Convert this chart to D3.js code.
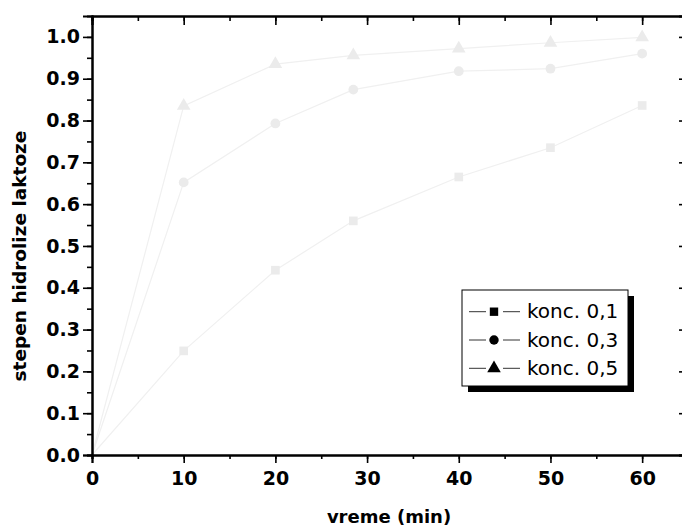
<!DOCTYPE html>
<html>
<head>
<meta charset="utf-8">
<script src="https://cdn.jsdelivr.net/npm/d3@7"></script>
<style>
  body { margin: 0; background: #fff; }
  svg { display: block; }
  .axis path, .axis line { stroke: #000; }
  .axis text { font-family: "DejaVu Sans", sans-serif; font-weight: bold; font-size: 19px; fill: #000; }
</style>
</head>
<body>
<svg id="chart" width="682" height="531"></svg>
<script>
// data
var times = [0, 10, 20, 28.5, 40, 50, 60];
var konc01 = [0, 0.249, 0.442, 0.560, 0.665, 0.735, 0.836];
var konc03 = [0, 0.652, 0.793, 0.874, 0.918, 0.924, 0.960];
var konc05 = [0, 0.835, 0.935, 0.956, 0.972, 0.986, 0.999];
var seriesNames = ["konc. 0,1", "konc. 0,3", "konc. 0,5"];
var seriesShapes = [d3.symbolSquare, d3.symbolCircle, d3.symbolTriangle];
var xTicks = [0, 10, 20, 30, 40, 50, 60];
var yTicks = [0, 0.1, 0.2, 0.3, 0.4, 0.5, 0.6, 0.7, 0.8, 0.9, 1.0];

var series = [konc01, konc03, konc05].map(function(vals, i) {
  return { name: seriesNames[i], shape: seriesShapes[i],
           points: times.map(function(t, j) { return [t, vals[j]]; }) };
});

var svg = d3.select("#chart"),
    plotLeft = 92, plotRight = 688, plotTop = 16, plotBottom = 455;

var x = d3.scaleLinear().domain([0, 65]).range([plotLeft, plotRight]);
var y = d3.scaleLinear().domain([0, 1.05]).range([plotBottom, plotTop]);

var minorX = d3.range(0, 66, 5);
var minorY = d3.range(0, 21).map(function(i) { return i * 0.05; });

function axisGroup(axis, tx, ty) {
  return svg.append("g").attr("class", "axis")
    .attr("transform", "translate(" + tx + "," + ty + ")")
    .call(axis)
    .call(function(g) {
      g.select(".domain").attr("stroke-width", 2);
      g.selectAll(".tick line").attr("stroke-width", 1.6);
    });
}

// lines, very pale as in the original
var line = d3.line().x(function(d) { return x(d[0]); }).y(function(d) { return y(d[1]); });

svg.append("g").selectAll("path")
  .data(series)
  .enter().append("path")
    .attr("d", function(d) { return line(d.points); })
    .attr("fill", "none")
    .attr("stroke", "#f0f0f0")
    .attr("stroke-width", 1.2);

series.forEach(function(s) {
  var sym = d3.symbol().type(s.shape).size(s.shape === d3.symbolTriangle ? 80 : 75);
  svg.append("g").selectAll("path")
    .data(s.points.slice(1))
    .enter().append("path")
      .attr("transform", function(d) { return "translate(" + x(d[0]) + "," + y(d[1]) + ")"; })
      .attr("d", sym)
      .attr("fill", "#ebebeb");
});

// minor ticks
axisGroup(d3.axisBottom(x).tickValues(minorX).tickSize(4).tickFormat(""), 0, plotBottom);
axisGroup(d3.axisTop(x).tickValues(minorX).tickSize(-5).tickFormat(""), 0, plotTop);
axisGroup(d3.axisLeft(y).tickValues(minorY).tickSize(5).tickFormat(""), plotLeft, 0);

// major ticks
axisGroup(d3.axisBottom(x).tickValues(xTicks).tickSize(8).tickPadding(9).tickFormat(d3.format("d")), 0, plotBottom);
axisGroup(d3.axisTop(x).tickValues(xTicks).tickSize(-9).tickFormat(""), 0, plotTop);
axisGroup(d3.axisLeft(y).tickValues(yTicks).tickSize(9).tickPadding(3).tickFormat(d3.format(".1f")), plotLeft, 0);
axisGroup(d3.axisRight(y).tickValues(yTicks).tickSize(-9).tickFormat(""), plotRight, 0);

// axis titles
svg.append("text")
  .attr("x", 389).attr("y", 523)
  .attr("text-anchor", "middle")
  .style("font-family", "DejaVu Sans, sans-serif")
  .style("font-weight", "bold")
  .style("font-size", "18px")
  .text("vreme (min)");

svg.append("text")
  .attr("transform", "translate(26,256) rotate(-90)")
  .attr("text-anchor", "middle")
  .style("font-family", "DejaVu Sans, sans-serif")
  .style("font-weight", "bold")
  .style("font-size", "18.5px")
  .text("stepen hidrolize laktoze");

// legend with drop shadow
var lg = svg.append("g").attr("transform", "translate(462,290)");
lg.append("rect").attr("x", 6).attr("y", 6).attr("width", 166).attr("height", 96).attr("fill", "#000");
lg.append("rect").attr("x", 0).attr("y", 0).attr("width", 166).attr("height", 96)
  .attr("fill", "#fff").attr("stroke", "#000").attr("stroke-width", 1);

var row = lg.selectAll("g.row")
  .data(series)
  .enter().append("g")
    .attr("class", "row")
    .attr("transform", function(d, i) { return "translate(0," + (21.7 + i * 28.3) + ")"; });

row.append("line")
  .attr("x1", 7).attr("x2", 24)
  .attr("stroke", "#333").attr("stroke-width", 1);
row.append("line")
  .attr("x1", 41).attr("x2", 58)
  .attr("stroke", "#333").attr("stroke-width", 1);
row.append("path")
  .attr("transform", "translate(32,0)")
  .attr("d", function(d) { return d3.symbol().type(d.shape).size(d.shape === d3.symbolTriangle ? 80 : 70)(); })
  .attr("fill", "#000");
row.append("text")
  .attr("x", 65).attr("y", 6.5)
  .style("font-family", "DejaVu Sans, sans-serif")
  .style("font-size", "20px")
  .text(function(d) { return d.name; });
</script>
</body>
</html>
